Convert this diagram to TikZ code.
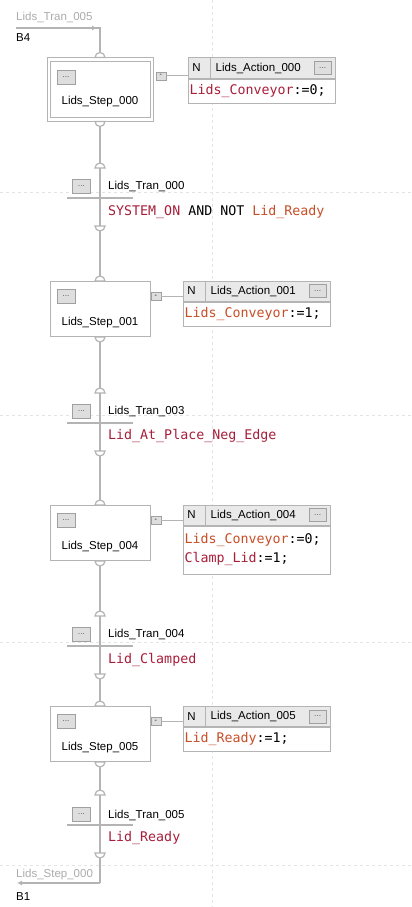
\documentclass[tikz,border=0pt]{standalone}
\usepackage{fontspec}
\setmainfont{Liberation Sans}
\setmonofont{DejaVu Sans Mono}
\usetikzlibrary{positioning,arrows.meta}
\definecolor{wiregray}{RGB}{180,180,180}
\definecolor{gridgray}{RGB}{228,228,228}
\definecolor{hdrgray}{RGB}{233,233,233}
\definecolor{btngray}{RGB}{222,222,222}
\definecolor{btnedge}{RGB}{160,160,160}
\definecolor{jumpgray}{RGB}{172,172,172}
\definecolor{tagout}{RGB}{200,78,40}
\definecolor{tagin}{RGB}{168,30,58}
\tikzset{
  wire/.style={draw=wiregray,line width=1.2pt},
  grid/.style={draw=gridgray,line width=.8pt,dash pattern=on 3pt off 3pt},
  stepbox/.style={draw=wiregray,line width=1pt,fill=white,minimum width=100pt,minimum height=55pt,inner sep=0pt},
  dots/.style={draw=btnedge,fill=btngray,line width=.6pt,minimum width=18pt,minimum height=14pt,inner sep=0pt,font=\fontsize{8.5}{8.5}\selectfont,text=black!65},
  minus/.style={draw=btnedge,fill=btngray,line width=.6pt,minimum width=10pt,minimum height=8pt,inner sep=0pt,font=\fontsize{7}{7}\selectfont},
  hdr/.style={draw=wiregray,line width=1pt,fill=hdrgray,minimum width=147pt,minimum height=20pt,inner sep=0pt},
  body/.style={draw=wiregray,line width=1pt,fill=white,text width=144pt,inner xsep=1.5pt,inner ysep=0pt,align=left,font=\ttfamily\fontsize{13.3}{19}\selectfont},
  lbl/.style={font=\fontsize{11.5}{13}\selectfont,inner sep=0pt},
  cond/.style={font=\ttfamily\fontsize{13.3}{16}\selectfont,inner sep=0pt,anchor=west},
  pics/dome/.style={code={\draw[wire,fill=white](-5pt,0)arc[start angle=180,end angle=0,radius=5pt]--cycle;}},
  pics/bowl/.style={code={\draw[wire,fill=white](-5pt,0)arc[start angle=180,end angle=360,radius=5pt]--cycle;}},
}
\begin{document}
\begin{tikzpicture}[x=1pt,y=-1pt]
\fill[white](0,0)rectangle(412,907);
\useasboundingbox(0,0)rectangle(412,907);
% grid
\draw[grid](212,0)--(212,907);
\draw[grid](0,192)--(412,192);
\draw[grid](0,415)--(412,415);
\draw[grid](0,642)--(412,642);
\draw[grid](0,865)--(412,865);
% steps
\node[stepbox,minimum width=106pt,minimum height=63pt](s0o)at(100,89.5){};
\node[stepbox](s0)at(100,89.5){};
\node[stepbox](s1)at(100,309){};
\node[stepbox](s4)at(100,533){};
\node[stepbox](s5)at(100,734){};
% transitions
\coordinate(t0)at(100,198);
\coordinate(t3)at(100,423);
\coordinate(t4)at(100,646);
\coordinate(t5)at(100,825);
% jumps
\coordinate(jin)at(16,28);
\coordinate(jk)at(100,28);
\coordinate(jout)at(17,883);
\coordinate(jk2)at(100,883);
\draw[wire](jin)--(jk)--(s0o.north);
\draw[wire,-{Latex[length=5pt,width=5pt]}](jin)--([xshift=-3pt]jk);
\draw[wire](s0o.south)--(s1.north);
\draw[wire](s1.south)--(s4.north);
\draw[wire](s4.south)--(s5.north);
\draw[wire](s5.south)--(jk2);
\draw[wire,-{Latex[length=5pt,width=5pt]}](jk2)--(jout);
\node[lbl,anchor=west,text=jumpgray](jt)at(16,17){Lids\_Tran\_005};
\node[lbl,anchor=west](jb4)at(16,38){B4};
\node[lbl,anchor=west,text=jumpgray](js)at(16,875){Lids\_Step\_000};
\node[lbl,anchor=west](jb1)at(16,897){B1};
% redraw step boxes over the wire
\node[stepbox,minimum width=106pt,minimum height=63pt]at(s0o){};
\node[stepbox]at(s0){};
\node[stepbox]at(s1){};
\node[stepbox]at(s4){};
\node[stepbox]at(s5){};
\node[dots]at([shift={(-34,-12.5)}]s0.center){...};
\node[lbl](s0l)at([shift={(0,12)}]s0.center){Lids\_Step\_000};
\node[dots]at([shift={(-34,-13)}]s1.center){...};
\node[lbl](s1l)at([shift={(0,14)}]s1.center){Lids\_Step\_001};
\node[dots]at([shift={(-34,-13)}]s4.center){...};
\node[lbl](s4l)at([shift={(0,14)}]s4.center){Lids\_Step\_004};
\node[dots]at([shift={(-34,-13)}]s5.center){...};
\node[lbl](s5l)at([shift={(0,14)}]s5.center){Lids\_Step\_005};
% bumps
\pic at(s0o.north){dome};\pic at(s0o.south){bowl};
\pic at(s1.north){dome};\pic at(s1.south){bowl};
\pic at(s4.north){dome};\pic at(s4.south){bowl};
\pic at(s5.north){dome};\pic at(s5.south){bowl};
\pic at([shift={(0,-30)}]t0){dome};\pic at([shift={(0,28)}]t0){bowl};
\pic at([shift={(0,-30)}]t3){dome};\pic at([shift={(0,28)}]t3){bowl};
\pic at([shift={(0,-30)}]t4){dome};\pic at([shift={(0,28)}]t4){bowl};
\pic at([shift={(0,-30)}]t5){dome};\pic at([shift={(0,28)}]t5){bowl};
% transition bars and labels
\draw[wire]([xshift=-33]t0)--([xshift=33]t0);
\node[dots](tb0)at([shift={(-18.5,-12)}]t0){...};
\node[lbl,anchor=west](tn0)at([shift={(8,-12)}]t0){Lids\_Tran\_000};
\node[cond](tc0)at([shift={(8,14)}]t0){\textcolor{tagin}{SYSTEM\_ON} AND NOT \textcolor{tagout}{Lid\_Ready}};
\draw[wire]([xshift=-33]t3)--([xshift=33]t3);
\node[dots](tb3)at([shift={(-18.5,-12)}]t3){...};
\node[lbl,anchor=west](tn3)at([shift={(8,-12)}]t3){Lids\_Tran\_003};
\node[cond,text=tagin](tc3)at([shift={(8,13)}]t3){Lid\_At\_Place\_Neg\_Edge};
\draw[wire]([xshift=-33]t4)--([xshift=33]t4);
\node[dots](tb4)at([shift={(-18.5,-12)}]t4){...};
\node[lbl,anchor=west](tn4)at([shift={(8,-12)}]t4){Lids\_Tran\_004};
\node[cond,text=tagin](tc4)at([shift={(8,14)}]t4){Lid\_Clamped};
\draw[wire]([xshift=-33]t5)--([xshift=33]t5);
\node[dots](tb5)at([shift={(-18.5,-11)}]t5){...};
\node[lbl,anchor=west](tn5)at([shift={(8,-10)}]t5){Lids\_Tran\_005};
\node[cond,text=tagin](tc5)at([shift={(8,13)}]t5){Lid\_Ready};
% actions
\node[hdr](h0)at(261.5,68){};
\node[body,minimum height=24pt,below=0pt of h0](b0){\textcolor{tagin}{Lids\_Conveyor}:=0;};
\node[hdr](h1)at(256.5,291){};
\node[body,minimum height=24pt,below=0pt of h1](b1){\textcolor{tagout}{Lids\_Conveyor}:=1;};
\node[hdr](h4)at(256.5,515){};
\node[body,minimum height=48pt,below=0pt of h4](b4){\textcolor{tagout}{Lids\_Conveyor}:=0;\\\textcolor{tagin}{Clamp\_Lid}:=1;};
\node[hdr](h5)at(256.5,716.5){};
\node[body,minimum height=24pt,below=0pt of h5](b5){\textcolor{tagout}{Lid\_Ready}:=1;};
\draw[wire,line width=.8pt]([xshift=23]h0.north west)--([xshift=23]h0.south west);
\draw[wire,line width=.8pt]([xshift=23]h1.north west)--([xshift=23]h1.south west);
\draw[wire,line width=.8pt]([xshift=23]h4.north west)--([xshift=23]h4.south west);
\draw[wire,line width=.8pt]([xshift=23]h5.north west)--([xshift=23]h5.south west);
\node[lbl]at([xshift=9]h0.west){N};
\node[lbl,anchor=west](a0)at([xshift=28]h0.west){Lids\_Action\_000};
\node[dots,minimum width=17pt,minimum height=13pt,anchor=east]at([xshift=-4]h0.east){...};
\node[lbl]at([xshift=9]h1.west){N};
\node[lbl,anchor=west](a1)at([xshift=28]h1.west){Lids\_Action\_001};
\node[dots,minimum width=17pt,minimum height=13pt,anchor=east]at([xshift=-4]h1.east){...};
\node[lbl]at([xshift=9]h4.west){N};
\node[lbl,anchor=west](a4)at([xshift=28]h4.west){Lids\_Action\_004};
\node[dots,minimum width=17pt,minimum height=13pt,anchor=east]at([xshift=-4]h4.east){...};
\node[lbl]at([xshift=9]h5.west){N};
\node[lbl,anchor=west](a5)at([xshift=28]h5.west){Lids\_Action\_005};
\node[dots,minimum width=17pt,minimum height=13pt,anchor=east]at([xshift=-4]h5.east){...};
% step to action links
\node[minus,anchor=north west](m0)at([shift={(2,14)}]s0o.north east){-};
\draw[wire,line width=.8pt](m0.east)--(m0.east-|h0.west);
\node[minus,anchor=north west](m1)at([shift={(0,11)}]s1.north east){-};
\draw[wire,line width=.8pt](m1.east)--(m1.east-|h1.west);
\node[minus,anchor=north west](m4)at([shift={(0,11)}]s4.north east){-};
\draw[wire,line width=.8pt](m4.east)--(m4.east-|h4.west);
\node[minus,anchor=north west](m5)at([shift={(0,11)}]s5.north east){-};
\draw[wire,line width=.8pt](m5.east)--(m5.east-|h5.west);
\end{tikzpicture}
\end{document}
